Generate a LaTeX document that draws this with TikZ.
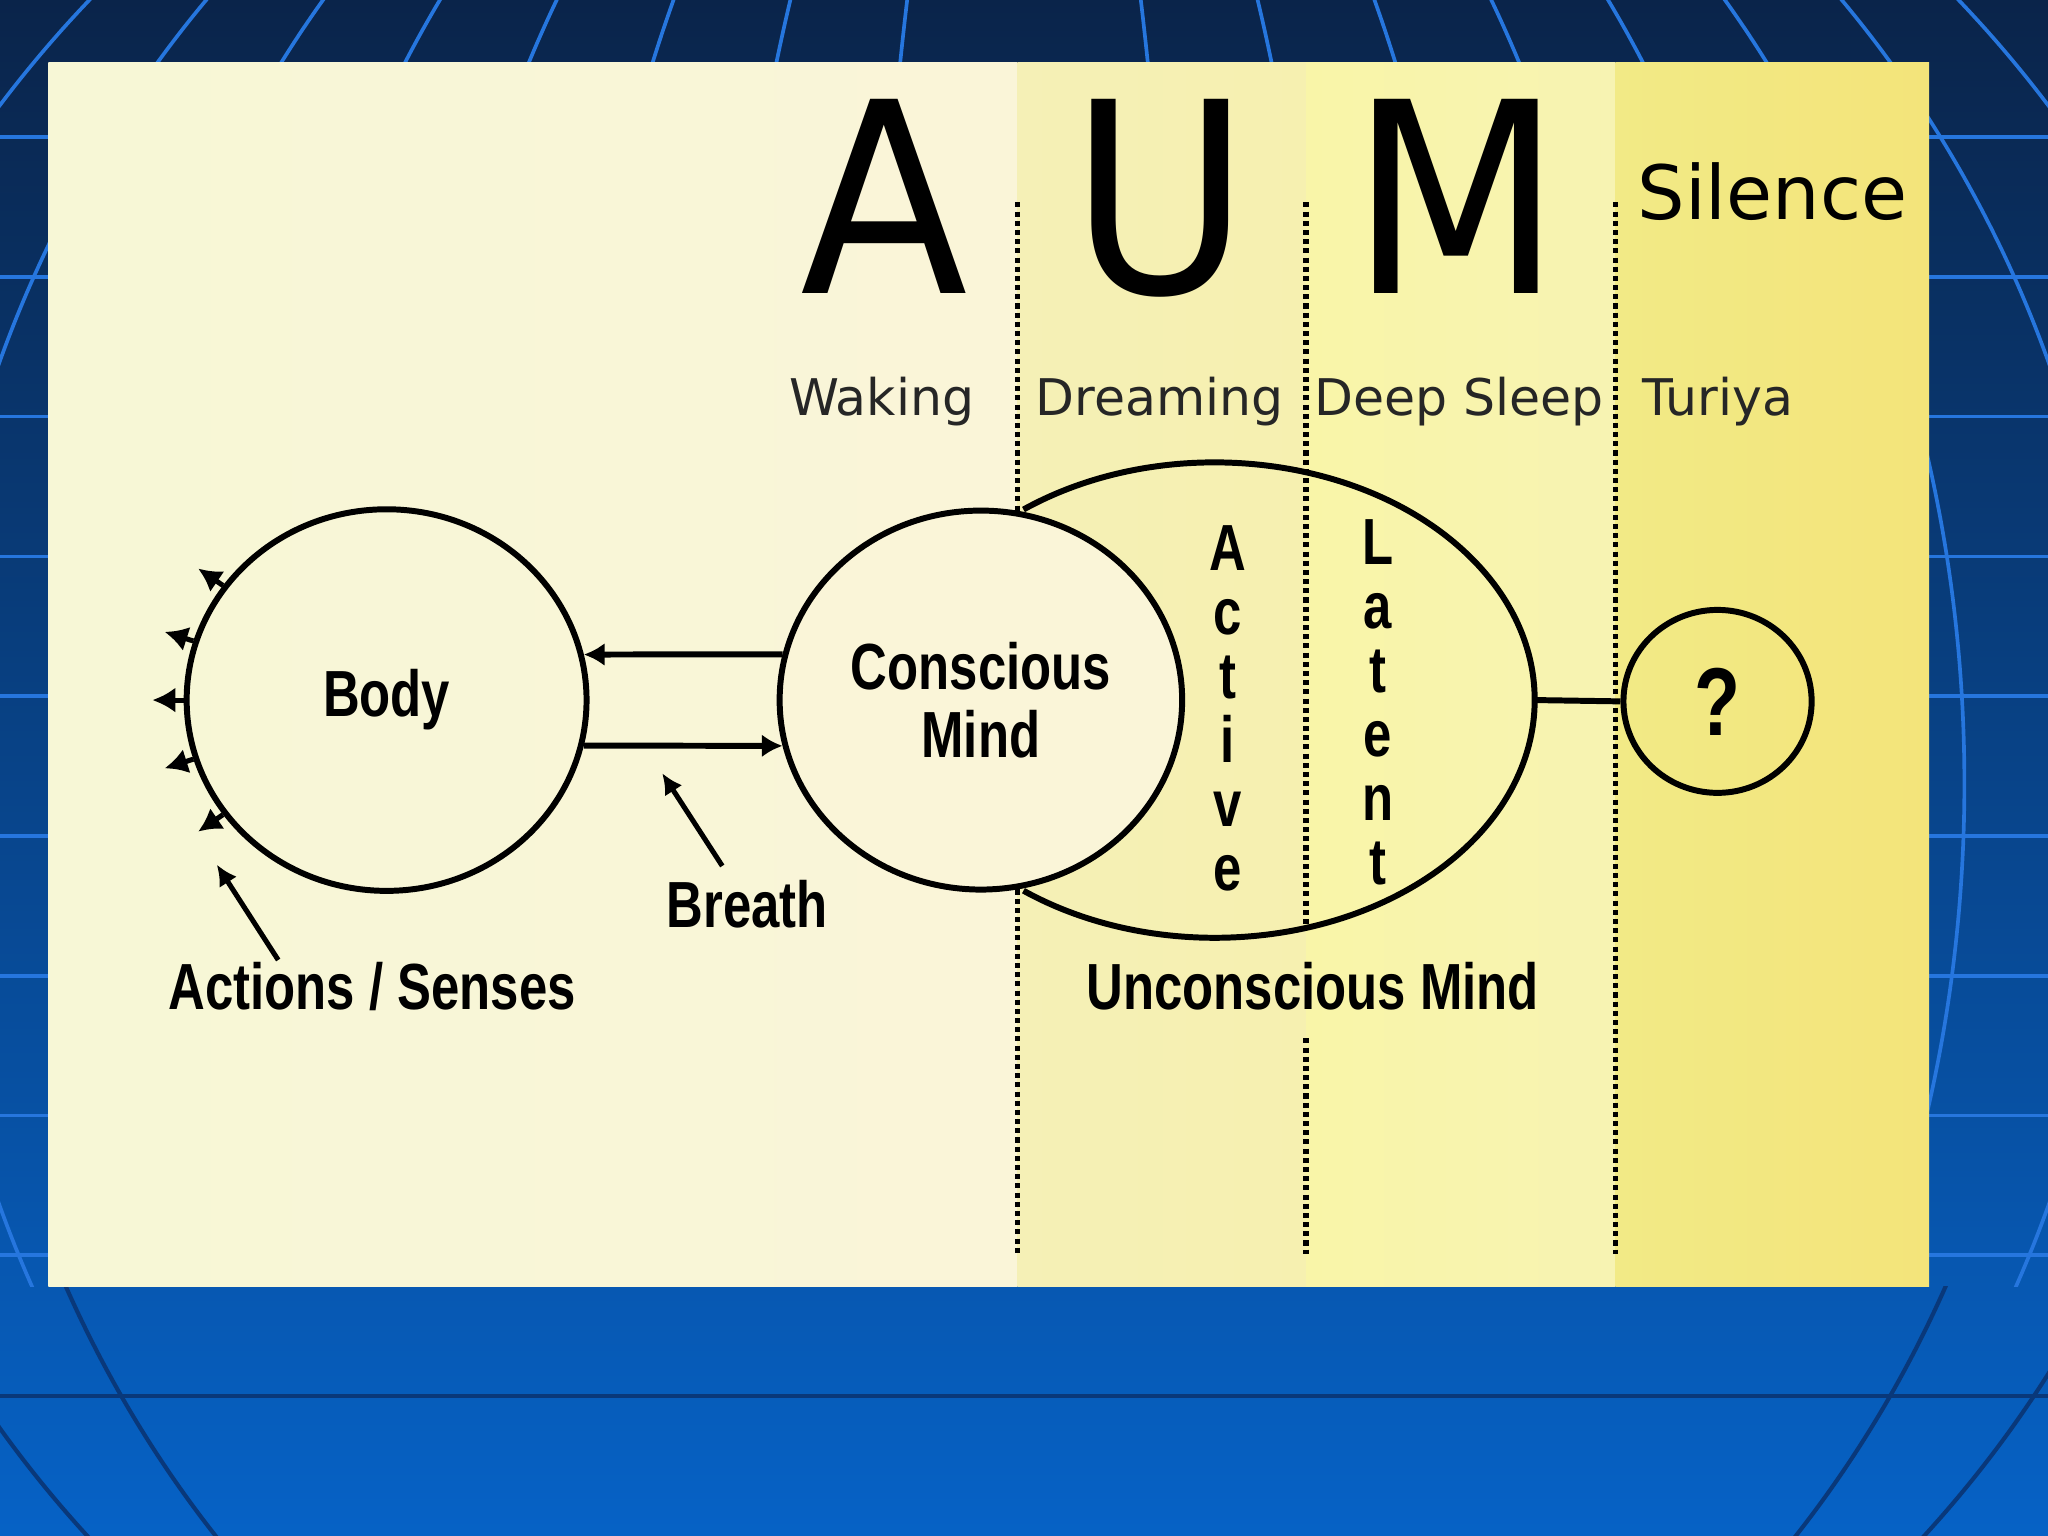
\documentclass[tikz,border=0pt]{standalone}
\usepackage{fontspec}
\setmainfont{DejaVu Sans}
\newfontfamily\narrowfont[FakeStretch=0.78]{Liberation Sans}
\newfontfamily\titlefont[FakeStretch=0.92]{DejaVu Sans}
\usetikzlibrary{arrows.meta,positioning,shapes.geometric,calc}
\definecolor{navytop}{RGB}{10,36,74}
\definecolor{navymid}{RGB}{9,72,150}
\definecolor{navybot}{RGB}{6,98,198}
\definecolor{gridlight}{RGB}{38,118,222}
\definecolor{griddark}{RGB}{9,56,122}
\definecolor{creamA}{RGB}{247,247,214}
\definecolor{creamB}{RGB}{250,245,216}
\definecolor{dreamA}{RGB}{245,240,182}
\definecolor{dreamB}{RGB}{246,240,176}
\definecolor{sleepA}{RGB}{249,245,168}
\definecolor{sleepB}{RGB}{247,243,178}
\definecolor{turiyaA}{RGB}{242,234,134}
\definecolor{turiyaB}{RGB}{243,228,122}

\begin{document}
\begin{tikzpicture}[x=0.01cm,y=-0.01cm,every node/.style={inner sep=0pt},
  bubble/.style={draw,ellipse,line width=1.3pt},
  lbl/.style={font=\narrowfont\bfseries\fontsize{14.2}{14.7}\selectfont,align=center},
  stage/.style={font=\fontsize{11}{13}\selectfont,anchor=base,text=black!85},
  aum/.style={font=\titlefont\fontsize{58}{60}\selectfont,anchor=base},
  divider/.style={line width=1.2pt,dash pattern=on 1.1pt off 0.9pt},
  flow/.style={line width=1.3pt,-{Latex[length=4.5pt,width=5pt]}},
  ptr/.style={line width=1.1pt,-{Latex[length=4.5pt,width=4.5pt]}}]
  \useasboundingbox (0,0) rectangle (1568,1176);
  % blue globe background
  \shade[top color=navytop,middle color=navymid,bottom color=navybot] (0,0) rectangle (1568,1176);
  \begin{scope}
    \clip (0,0) rectangle (1568,985);
    \foreach \gy in {105,212,...,985} \draw[gridlight,line width=0.8pt] (0,\gy) -- (1568,\gy);
    \foreach \rx in {120,240,...,960} \draw[gridlight,line width=0.8pt] (784,600) ellipse[x radius=\rx,y radius=900];
  \end{scope}
  \begin{scope}
    \clip (0,985) rectangle (1568,1176);
    \foreach \gy in {1069} \draw[griddark,line width=0.9pt] (0,\gy) -- (1568,\gy);
    \foreach \rx in {800,930} \draw[griddark,line width=0.9pt] (770,600) ellipse[x radius=\rx,y radius=880];
  \end{scope}
  % panel
  \shade[left color=creamA,right color=creamB] (37,48) rectangle (779,985);
  \shade[left color=dreamA,right color=dreamB] (779,48) rectangle (1000,985);
  \shade[left color=sleepA,right color=sleepB] (1000,48) rectangle (1237,985);
  \shade[left color=turiyaA,right color=turiyaB] (1237,48) rectangle (1477,985);
  \draw[divider] (779,155) -- (779,391) (779,681) -- (779,960);
  \draw[divider] (1000,155) -- (1000,712) (1000,795) -- (1000,960);
  \draw[divider] (1237,155) -- (1237,960);
  % headings
  \node[aum] (a) at (677,225) {A};
  \node[aum] (u) at (888,225) {U};
  \node[aum] (m) at (1115,225) {M};
  \node[font=\fontsize{16.3}{18}\selectfont,anchor=base] (silence) at (1357,168) {Silence};
  \node[stage] (waking) at (675,318) {Waking};
  \node[stage] (dreaming) at (888,318) {Dreaming};
  \node[stage] (deep) at (1117,318) {Deep Sleep};
  \node[stage] (turiya) at (1315,318) {Turiya};
  % circles
  \node[bubble,lbl,minimum width=3.06cm,minimum height=2.92cm] (body) at (296,536) {Body};
  \node[ellipse,minimum width=4.9cm,minimum height=3.64cm] (uncon) at (930,536) {};
  \draw[line width=1.3pt] ($(uncon.center)+(-146.4,-145.9)$) arc[start angle=-126.7,end angle=126.7,x radius=245,y radius=182];
  \node[bubble,lbl,fill=creamB,minimum width=3.08cm,minimum height=2.90cm] (conscious) at (751,536) {Conscious\\Mind};
  \node[bubble,lbl,font=\narrowfont\bfseries\fontsize{21}{22}\selectfont,minimum width=1.44cm,minimum height=1.40cm] (q) at (1315,537) {?};
  \draw[line width=1.3pt] (uncon.east) -- (q.west);
  \foreach \ch [count=\k from 0] in {A,c,t,i,v,e} \node[lbl,anchor=base] (act\k) at (940,{437+49*\k}) {\ch};
  \foreach \ch [count=\k from 0] in {L,a,t,e,n,t} \node[lbl,anchor=base] (lat\k) at (1055,{432+49*\k}) {\ch};
  % connectors
  \draw[flow] (conscious.167) -- (body.13);
  \draw[flow] (body.-13) -- (conscious.193);
  \foreach \ang/\dx/\dy in {145/-19/-13,163/-22/-7,180/-24/0,197/-22/7,215/-19/13}{\draw[ptr,line width=1.1pt,-{Latex[length=5pt,width=5.5pt]}] (body.\ang) -- ++(\dx,\dy);}
  \node[lbl,anchor=base] (breath) at (572,710) {Breath};
  \node[lbl,anchor=base] (actions) at (285,773) {Actions / Senses};
  \node[lbl,anchor=base] (unconlbl) at (1005,773) {Unconscious Mind};
  \coordinate (breathfoot) at (553,663);
  \coordinate (breathtip) at (507,592);
  \coordinate (actfoot) at (213,735);
  \coordinate (acttip) at (166,662);
  \draw[ptr] (breathfoot) -- (breathtip);
  \draw[ptr] (actfoot) -- (acttip);
\end{tikzpicture}
\end{document}
